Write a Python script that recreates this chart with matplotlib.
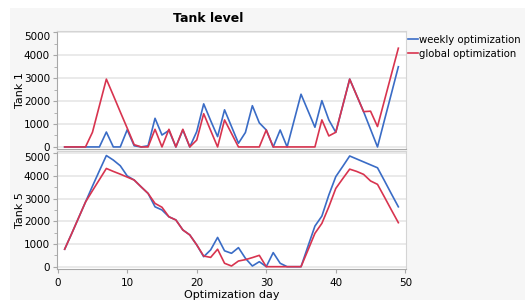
import numpy as np
import matplotlib
matplotlib.use("Agg")
import matplotlib.pyplot as plt
from matplotlib.patches import Rectangle
from matplotlib.ticker import MultipleLocator

days = np.arange(1, 50)

tank1_weekly = [0, 0, 0, 0, 0, 0, 650, 0, 0, 750,
                50, 0, 50, 1250, 520, 720, 0, 740, 0, 670,
                1880, 1150, 450, 1620, 890, 160, 630, 1800, 1050, 740,
                0, 740, 0, 1150, 2300, 1580, 860, 2020, 1180, 640,
                1800, 2960, 2250, 1540, 770, 0, 1170, 2330, 3500]
tank1_global = [0, 0, 0, 0, 640, 1800, 2960, 2250, 1530, 820,
                100, 0, 0, 770, 0, 770, 0, 770, 0, 300,
                1450, 720, 0, 1180, 590, 0, 0, 0, 0, 740,
                0, 0, 0, 0, 0, 0, 0, 1180, 480, 640,
                1800, 2960, 2250, 1540, 1560, 890, 2030, 3170, 4310]

tank5_weekly = [770, 1450, 2150, 2850, 3550, 4230, 4900, 4700, 4450, 4000,
                3820, 3520, 3230, 2640, 2500, 2200, 2060, 1620, 1400, 960,
                440, 740, 1290, 700, 590, 840, 370, 30, 220, 0,
                620, 150, 0, 0, 0, 900, 1790, 2230, 3160, 3970,
                4420, 4880, 4750, 4620, 4490, 4360, 3790, 3210, 2640]
tank5_global = [770, 1450, 2150, 2850, 3350, 3840, 4330, 4200, 4080, 3950,
                3820, 3520, 3230, 2790, 2620, 2200, 2060, 1620, 1400, 960,
                470, 410, 770, 150, 30, 250, 310, 400, 500, 0,
                0, 0, 0, 0, 0, 730, 1470, 1910, 2640, 3450,
                3880, 4300, 4200, 4070, 3780, 3630, 3070, 2500, 1940]

yticks = [0, 1000, 2000, 3000, 4000, 5000]
xticks = [0, 10, 20, 30, 40, 50]

BLUE = "#3a6cc6"
RED = "#d8344f"
W, H = 525, 300

fig = plt.figure(figsize=(W / 100, H / 100), dpi=100, facecolor="white")
fig.patches.append(Rectangle((10 / W, 0), 1, 1 - 8 / H, transform=fig.transFigure,
                             facecolor="#f6f6f6", edgecolor="none", zorder=-10))

left, right = 57 / W, 406 / W
ax1 = fig.add_axes([left, 1 - 149 / H, right - left, 118 / H])
ax2 = fig.add_axes([left, 1 - 268.5 / H, right - left, 117.5 / H])


def style(ax, ylim):
    ax.set_facecolor("white")
    ax.set_xlim(-0.1, 50.1)
    ax.set_ylim(*ylim)
    ax.set_yticks(yticks)
    ax.yaxis.set_minor_locator(MultipleLocator(500))
    ax.grid(axis="y", color="#e4e4e4", linewidth=1.1)
    ax.set_axisbelow(True)
    for s in ["top", "right"]:
        ax.spines[s].set_color("#d4d4d4")
    for s in ["left", "bottom"]:
        ax.spines[s].set_color("#a8a8a8")
    ax.tick_params(axis="y", labelsize=7.5, length=3, color="#a8a8a8", pad=2)
    ax.tick_params(axis="y", which="minor", length=2, color="#a8a8a8")
    ax.tick_params(axis="x", labelsize=7.5, length=3, color="#a8a8a8")
    # top label sits just under its gridline, like the original
    ax.get_yticklabels()[-1].set_verticalalignment("top")


style(ax1, (-90, 5060))
ax1.plot(days, tank1_weekly, color=BLUE, lw=1.2, label="weekly optimization")
ax1.plot(days, tank1_global, color=RED, lw=1.2, label="global optimization")
ax1.set_xticks([])

style(ax2, (-80, 5100))
ax2.plot(days, tank5_weekly, color=BLUE, lw=1.2)
ax2.plot(days, tank5_global, color=RED, lw=1.2)
ax2.set_xticks(xticks)

fig.text(20 / W, 1 - 90 / H, "Tank 1", rotation=90, ha="center", va="center", fontsize=8)
fig.text(20 / W, 1 - 210 / H, "Tank 5", rotation=90, ha="center", va="center", fontsize=8)
fig.text(208 / W, 1 - 19 / H, "Tank level", ha="center", va="center", fontsize=9, fontweight="bold")
fig.text(231.5 / W, 1 - 290.5 / H, "Optimization day", ha="center", va="top", fontsize=8)

fig.legend(loc="upper left", bbox_to_anchor=(406 / W, 1 - 33 / H), frameon=False,
           fontsize=7.3, handlelength=1.0, handletextpad=0.1, labelspacing=0.35,
           borderaxespad=0, borderpad=0.2)

fig.savefig("out.png", dpi=100, facecolor=fig.get_facecolor())
